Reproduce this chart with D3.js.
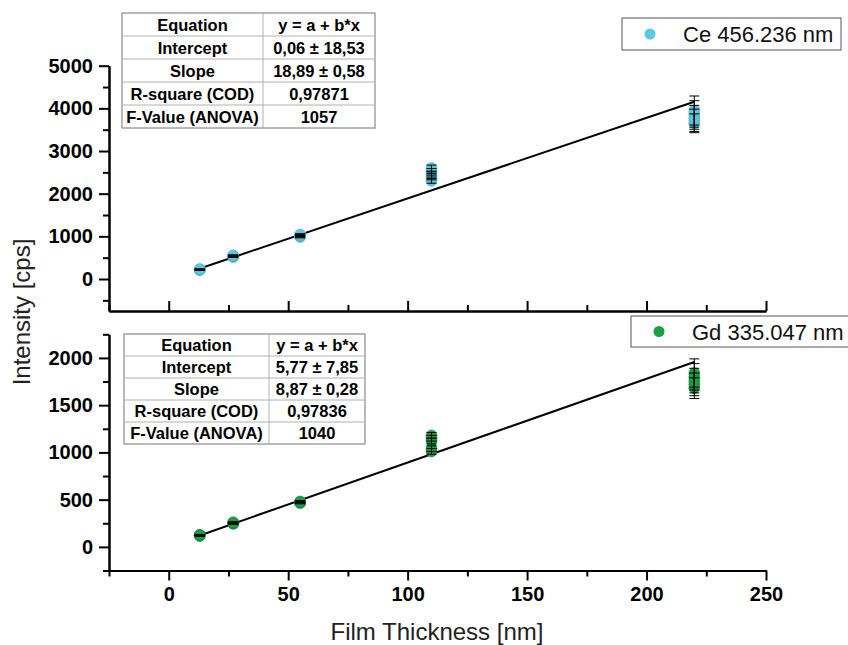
<!DOCTYPE html>
<html>
<head>
<meta charset="utf-8">
<script src="https://cdn.jsdelivr.net/npm/d3@7"></script>
<style>
  html, body { margin: 0; padding: 0; background: #fff; }
  svg { display: block; font-family: "Liberation Sans", Arial, sans-serif; }
</style>
</head>
<body>
<svg id="chart" width="848" height="645"></svg>
<script>
// Film thickness of the samples (nm)
const thicknessNm = [13, 27, 55, 110, 220];

// Ce 456.236 nm: replicate intensities (cps) and their errors per thickness
const ceIntensity = [
  [210, 215, 220, 225, 230],
  [515, 525, 535, 545, 555],
  [985, 1000, 1015, 1030, 1040],
  [2300, 2380, 2450, 2530, 2600],
  [3650, 3720, 3790, 3870, 3950]
];
const ceError = [
  [8, 8, 8, 8, 8],
  [12, 12, 12, 12, 12],
  [20, 20, 20, 20, 20],
  [55, 55, 60, 60, 70],
  [220, 260, 280, 310, 340]
];

// Gd 335.047 nm: replicate intensities (cps) and their errors per thickness
const gdIntensity = [
  [116, 119, 122, 125, 128],
  [244, 248, 252, 256, 260],
  [464, 468, 472, 476, 480],
  [1010, 1040, 1120, 1150, 1180],
  [1680, 1720, 1760, 1800, 1840]
];
const gdError = [
  [4, 4, 4, 4, 4],
  [6, 6, 6, 6, 6],
  [8, 8, 8, 8, 8],
  [30, 30, 30, 30, 30],
  [110, 120, 130, 140, 150]
];

// Linear fit parameters y = a + b*x
const ceIntercept = 0.06, ceSlope = 18.89;
const gdIntercept = 5.77, gdSlope = 8.87;

// Fit statistics tables
const ceFitTable = [
  ["Equation", "y = a + b*x"],
  ["Intercept", "0,06 \u00b1 18,53"],
  ["Slope", "18,89 \u00b1 0,58"],
  ["R-square (COD)", "0,97871"],
  ["F-Value (ANOVA)", "1057"]
];
const gdFitTable = [
  ["Equation", "y = a + b*x"],
  ["Intercept", "5,77 \u00b1 7,85"],
  ["Slope", "8,87 \u00b1 0,28"],
  ["R-square (COD)", "0,97836"],
  ["F-Value (ANOVA)", "1040"]
];

// Axis ticks
const xTicks = [0, 50, 100, 150, 200, 250];
const xMinorTicks = [-25, 25, 75, 125, 175, 225];
const ceYTicks = [0, 1000, 2000, 3000, 4000, 5000];
const ceYMinorTicks = [-500, 500, 1500, 2500, 3500, 4500];
const gdYTicks = [0, 500, 1000, 1500, 2000];
const gdYMinorTicks = [-250, 250, 750, 1250, 1750, 2250];

const ceLabel = "Ce 456.236 nm";
const gdLabel = "Gd 335.047 nm";
const ceColor = "#5cc8df";
const gdColor = "#1c9e45";

const svg = d3.select("#chart");

const x = d3.scaleLinear().domain([-25, 250]).range([109, 766]);
const yCe = d3.scaleLinear().domain([-750, 5000]).range([311, 65.7]);
const yGd = d3.scaleLinear().domain([-250, 2250]).range([570.5, 334.3]);
const fmt = d3.format("d");

function styleAxis(g) {
  g.select(".domain").attr("stroke", "#000").attr("stroke-width", 2);
  g.selectAll(".tick line").attr("stroke", "#000").attr("stroke-width", 2);
  g.selectAll(".tick text")
    .attr("fill", "#000")
    .attr("font-size", 20)
    .attr("font-weight", "bold")
    .attr("font-family", "'Liberation Sans', Arial, sans-serif");
}

// ---- Y axes ----
function yAxis(scale, major, minor) {
  svg.append("g").attr("transform", "translate(109,0)")
    .call(d3.axisLeft(scale).tickValues(minor).tickSize(6).tickFormat("").tickSizeOuter(0))
    .call(styleAxis);
  svg.append("g").attr("transform", "translate(109,0)")
    .call(d3.axisLeft(scale).tickValues(major).tickSize(10).tickPadding(6).tickFormat(fmt).tickSizeOuter(0))
    .call(styleAxis);
}
yAxis(yCe, ceYTicks, ceYMinorTicks);
yAxis(yGd, gdYTicks, gdYMinorTicks);

// ---- X axes ----
// upper panel: ticks point into the plot, no labels
svg.append("g").attr("transform", `translate(0,${yCe(-750)})`)
  .call(d3.axisTop(x).tickValues(xMinorTicks).tickSize(6).tickFormat("").tickSizeOuter(0))
  .call(styleAxis);
svg.append("g").attr("transform", `translate(0,${yCe(-750)})`)
  .call(d3.axisTop(x).tickValues(xTicks).tickSize(10).tickFormat("").tickSizeOuter(0))
  .call(styleAxis);
// lower panel
svg.append("g").attr("transform", `translate(0,${yGd(-250)})`)
  .call(d3.axisBottom(x).tickValues(xMinorTicks).tickSize(6).tickFormat("").tickSizeOuter(0))
  .call(styleAxis);
svg.append("g").attr("transform", `translate(0,${yGd(-250)})`)
  .call(d3.axisBottom(x).tickValues(xTicks).tickSize(10).tickPadding(6).tickFormat(fmt).tickSizeOuter(0))
  .call(styleAxis);

// ---- Axis titles ----
svg.append("text")
  .attr("x", 437).attr("y", 640)
  .attr("text-anchor", "middle")
  .attr("font-size", 24)
  .attr("fill", "#222")
  .text("Film Thickness [nm]");
svg.append("text")
  .attr("transform", "translate(30,312) rotate(-90)")
  .attr("text-anchor", "middle")
  .attr("font-size", 24)
  .attr("fill", "#222")
  .text("Intensity [cps]");

// ---- Fit lines ----
function fitLine(scaleY, a, b) {
  const xs = d3.extent(thicknessNm);
  svg.append("line")
    .attr("x1", x(xs[0])).attr("y1", scaleY(a + b * xs[0]))
    .attr("x2", x(xs[1])).attr("y2", scaleY(a + b * xs[1]))
    .attr("stroke", "#000").attr("stroke-width", 2);
}

// ---- Replicate points with error bars ----
function points(scaleY, values, errors, color) {
  const flat = [];
  values.forEach((row, i) => row.forEach((v, j) => flat.push({ t: thicknessNm[i], v, e: errors[i][j] })));
  const g = svg.append("g");
  g.selectAll("circle").data(flat).join("circle")
    .attr("cx", d => x(d.t)).attr("cy", d => scaleY(d.v))
    .attr("r", 5.5)
    .attr("fill", color)
    .attr("stroke", d3.color(color).darker(0.5))
    .attr("stroke-width", 0.5);
  const eb = svg.append("g").attr("stroke", "#000").attr("stroke-width", 1);
  flat.forEach(d => {
    const cx = x(d.t), y1 = scaleY(d.v + d.e), y2 = scaleY(d.v - d.e);
    eb.append("line").attr("x1", cx).attr("x2", cx).attr("y1", y1).attr("y2", y2);
    eb.append("line").attr("x1", cx - 5).attr("x2", cx + 5).attr("y1", y1).attr("y2", y1);
    eb.append("line").attr("x1", cx - 5).attr("x2", cx + 5).attr("y1", y2).attr("y2", y2);
  });
}

fitLine(yCe, ceIntercept, ceSlope);
points(yCe, ceIntensity, ceError, ceColor);
fitLine(yGd, gdIntercept, gdSlope);
points(yGd, gdIntensity, gdError, gdColor);

// ---- Fit tables ----
function fitTable(rows, left, top, split, right, rowH) {
  const g = svg.append("g");
  g.append("rect")
    .attr("x", left).attr("y", top)
    .attr("width", right - left).attr("height", rowH * rows.length)
    .attr("fill", "#fff").attr("stroke", "#8a8a8a").attr("stroke-width", 1.2);
  for (let i = 1; i < rows.length; i++) {
    g.append("line")
      .attr("x1", left).attr("x2", right)
      .attr("y1", top + i * rowH).attr("y2", top + i * rowH)
      .attr("stroke", "#b0b0b0").attr("stroke-width", 1);
  }
  g.append("line")
    .attr("x1", split).attr("x2", split)
    .attr("y1", top).attr("y2", top + rowH * rows.length)
    .attr("stroke", "#b0b0b0").attr("stroke-width", 1);
  rows.forEach((r, i) => {
    const cy = top + i * rowH + rowH / 2 + 6;
    g.append("text").attr("x", (left + split) / 2).attr("y", cy)
      .attr("text-anchor", "middle").attr("font-size", 16.5).attr("font-weight", "bold")
      .text(r[0]);
    g.append("text").attr("x", (split + right) / 2).attr("y", cy)
      .attr("text-anchor", "middle").attr("font-size", 16.5).attr("font-weight", "bold")
      .text(r[1]);
  });
}
fitTable(ceFitTable, 122, 13, 263, 375, 23);
fitTable(gdFitTable, 124, 334, 269, 365, 22);

// ---- Legends ----
function legend(left, top, w, h, color, label) {
  const g = svg.append("g");
  g.append("rect").attr("x", left).attr("y", top).attr("width", w).attr("height", h)
    .attr("fill", "#fff").attr("stroke", "#555").attr("stroke-width", 1);
  g.append("circle").attr("cx", left + 28).attr("cy", top + h / 2).attr("r", 5.5)
    .attr("fill", color);
  g.append("text").attr("x", left + 61).attr("y", top + h / 2 + 8)
    .attr("font-size", 22).attr("fill", "#111").text(label);
}
legend(622, 18, 219, 32, ceColor, ceLabel);
legend(631, 316, 230, 31, gdColor, gdLabel);
</script>
</body>
</html>
